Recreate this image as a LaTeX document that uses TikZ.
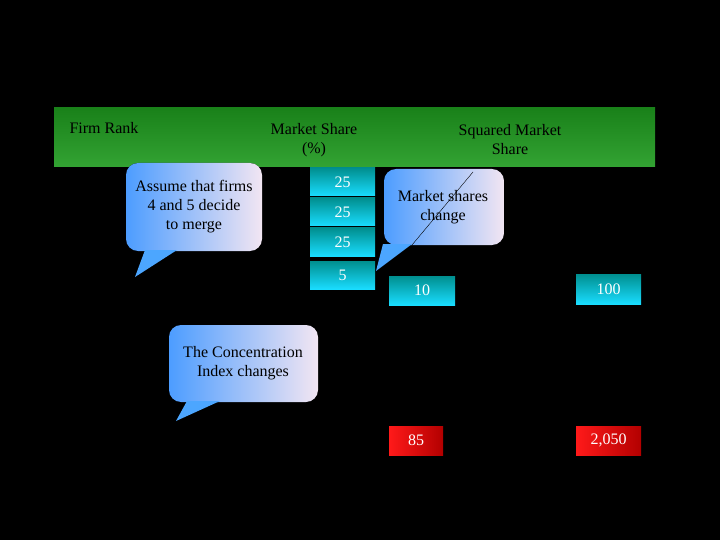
\documentclass[tikz,border=0pt]{standalone}
\usepackage{fontspec}
\setmainfont{Liberation Serif}
\begin{document}
\begin{tikzpicture}[x=1pt,y=-1pt,
  lbl/.style={text=black,font=\fontsize{16}{19}\selectfont,align=center},
  cbox/.style={draw=none,top color=cyan!40!teal!80!black,bottom color=cyan!85!blue!90!white,text=white,font=\fontsize{16}{19}\selectfont,inner sep=0pt},
  rbox/.style={draw=none,left color=red!90!white,right color=red!70!black,text=white,font=\fontsize{16}{19}\selectfont,inner sep=0pt},
  bub/.style={draw=none,rounded corners=12pt,shading=axis,shading angle=45,left color=blue!55!cyan!70!white,right color=violet!10!white}]
\fill[black] (0,0) rectangle (720,540);
\useasboundingbox (0,0) rectangle (720,540);
\shade[top color=green!45!black!90!white,bottom color=green!55!black!80!white] (54,108) rectangle (655,167);
\node[lbl,anchor=west] (fr) at (66,128) {Firm Rank};
\node[lbl] (ms) at (314,140) {Market Share\\(\%)};
\node[lbl] (sq) at (510,140) {Squared Market\\Share};
% boxes
\node[cbox,minimum width=65,minimum height=28] (b1) at (342.5,182) {25};
\node[cbox,minimum width=65,minimum height=28] (b2) at (342.5,212) {25};
\node[cbox,minimum width=65,minimum height=28] (b3) at (342.5,242) {25};
\node[cbox,minimum width=65,minimum height=28] (b4) at (342.5,275) {5};
\node[cbox,minimum width=66,minimum height=29] (b5) at (422,290.5) {10};
\node[cbox,minimum width=65,minimum height=30] (b6) at (608.5,289) {100};
\node[rbox,minimum width=54,minimum height=29] (r1) at (416,440.5) {85};
\node[rbox,minimum width=65,minimum height=29] (r2) at (608.5,440.5) {2,050};
% callouts
\fill[bub] (126,163) rectangle (262,251);
\fill[blue!50!cyan!70!white] (145,250) -- (177,250) -- (135,277) -- cycle;
\node[lbl] (c1) at (194,207) {Assume that firms\\4 and 5 decide\\to merge};
\fill[bub] (384,169) rectangle (504,245);
\fill[blue!50!cyan!70!white] (383,244) -- (412,244) -- (376,271) -- cycle;
\node[lbl] (c2) at (443,207) {Market shares\\change};
\coordinate (l1) at (412,245);
\coordinate (l2) at (473,172);
\draw[black,thin] (l1) -- (l2);
\fill[bub] (169,325) rectangle (318,402);
\fill[blue!50!cyan!70!white] (187,401) -- (220,401) -- (176,421) -- cycle;
\node[lbl] (c3) at (243,363) {The Concentration\\Index changes};
\end{tikzpicture}
\end{document}
